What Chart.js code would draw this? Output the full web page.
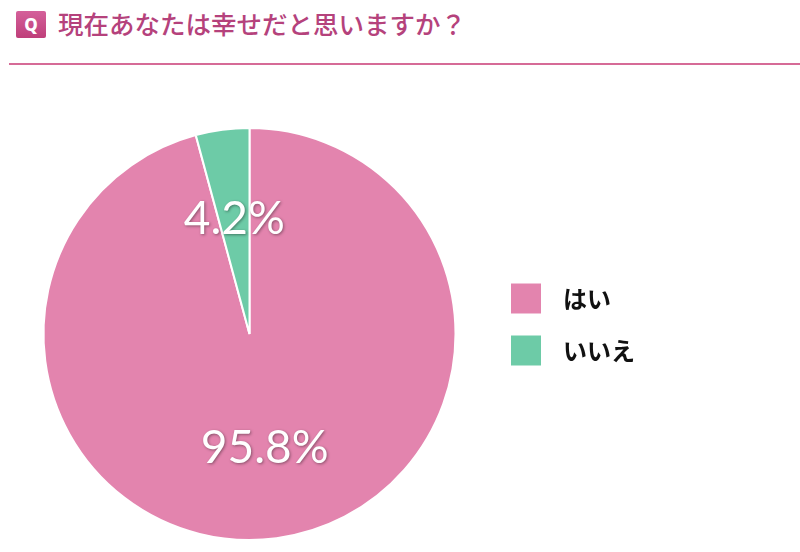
<!DOCTYPE html>
<html>
<head>
<meta charset="utf-8">
<script src="https://cdn.jsdelivr.net/npm/chart.js@4"></script>
<style>
  html, body { margin: 0; padding: 0; background: #fff; width: 800px; height: 552px; overflow: hidden; }
  #head { position: absolute; left: 0; top: 0; width: 800px; height: 66px; }
  #badge { position: absolute; left: 16px; top: 11px; width: 30px; height: 27px; border-radius: 2px;
    background: linear-gradient(#d4609a, #bf3f7a);
    color: #fff; font: 800 17px "Noto Sans", sans-serif; text-align: center; line-height: 27px; }
  #title { position: absolute; left: 58px; top: 4px; font: 500 25.5px "Noto Sans CJK JP", sans-serif; color: #b5427c; }
  #rule { position: absolute; left: 9px; top: 63px; width: 791px; height: 2px; background: #d66b97; }
  #wrap { position: absolute; left: 0; top: 70px; width: 800px; height: 482px; }
</style>
</head>
<body>
<div id="head">
  <div id="badge">Q</div>
  <div id="title">現在あなたは幸せだと思いますか？</div>
  <div id="rule"></div>
</div>
<div id="wrap"><canvas id="chart"></canvas></div>
<script>
const answers = ['はい', 'いいえ'];
const shares = [95.8, 4.2];
const sliceColors = ['#e384ae', '#6dcba7'];

// percent text drawn over each slice
const sliceText = {
  id: 'sliceText',
  afterDatasetsDraw(chart) {
    let ctx = chart.ctx;
    let meta = chart.getDatasetMeta(0);
    ctx.save();
    ctx.font = '400 46px Lato, "Noto Sans", sans-serif';
    ctx.textAlign = 'center';
    ctx.textBaseline = 'middle';
    ctx.fillStyle = '#ffffff';
    ctx.shadowColor = 'rgba(0,0,0,0.4)';
    ctx.shadowBlur = 3;
    ctx.shadowOffsetX = 1;
    ctx.shadowOffsetY = 1;
    meta.data.forEach((arc, i) => {
      let mid = (arc.startAngle + arc.endAngle) / 2;
      let d = arc.outerRadius * 0.56;
      ctx.fillText(shares[i] + '%', arc.x + Math.cos(mid) * d, arc.y + Math.sin(mid) * d);
    });
    ctx.restore();
  }
};

new Chart(document.getElementById('chart'), {
    type: 'pie',
    data: {
        labels: answers,
        datasets: [
            {
                data: shares,
                backgroundColor: sliceColors,
                borderColor: '#ffffff',
                borderWidth: 2,
                radius: 206
            }
        ]
    },
    options: {
        responsive: true,
        maintainAspectRatio: false,
        animation: false,
        layout: {
            padding: { left: -8, right: 155, top: 58, bottom: 12 }
        },
        plugins: {
            legend: {
                position: 'right',
                align: 'start',
                title: {
                    display: true,
                    text: ' ',
                    color: '#111111',
                    font: { size: 12, lineHeight: 1.2 },
                    padding: { top: 129, bottom: 0 }
                },
                labels: {
                    boxWidth: 50,
                    boxHeight: 50,
                    padding: 2,
                    color: '#111111',
                    font: { family: '"Noto Sans CJK JP", sans-serif', size: 24, weight: 'bold' },
                    generateLabels(chart) {
                        return answers.map((a, i) => ({
                            text: a,
                            fillStyle: sliceColors[i],
                            strokeStyle: '#ffffff',
                            fontColor: '#111111',
                            lineWidth: 20,
                            hidden: false,
                            index: i
                        }));
                    }
                }
            },
            tooltip: { enabled: false }
        }
    },
    plugins: [sliceText]
});
</script>
</body>
</html>
